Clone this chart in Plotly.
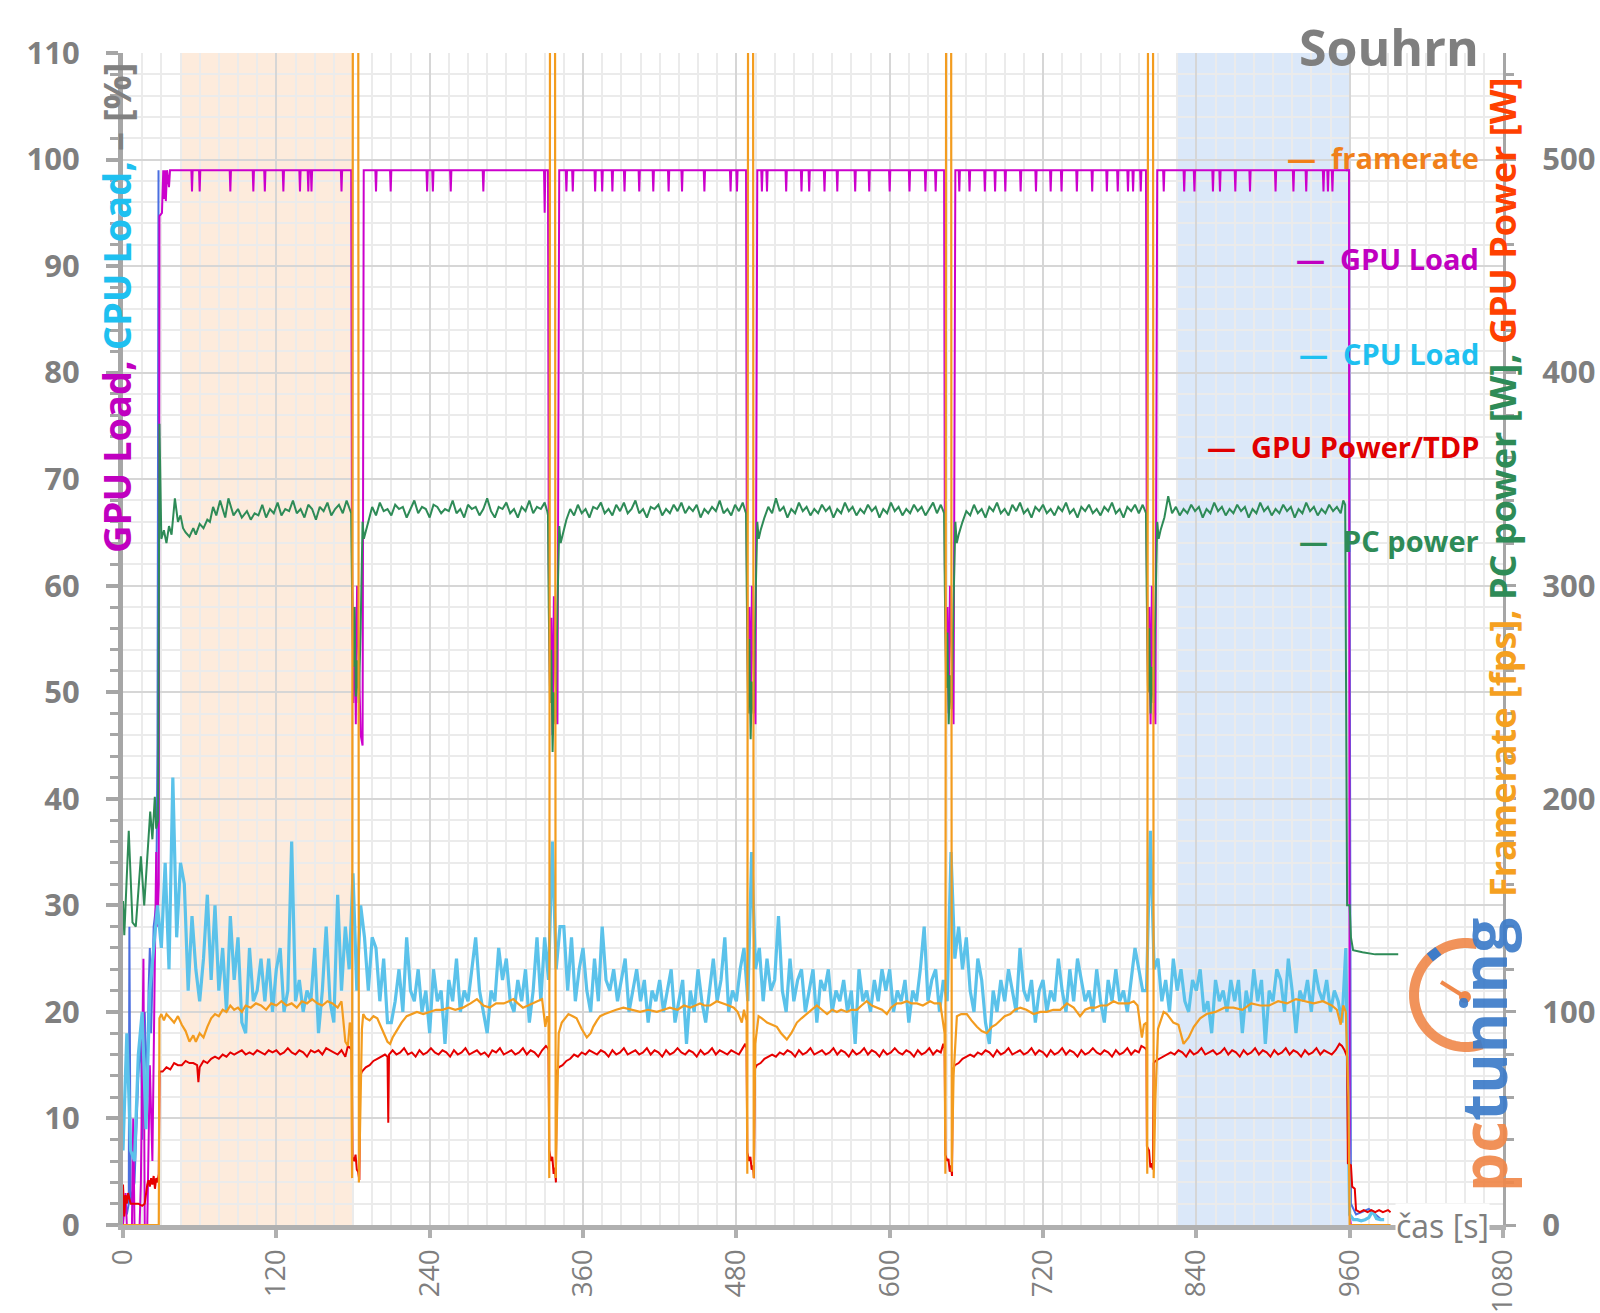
import math
import plotly.graph_objects as go

# ---------------- data ----------------
series_names = ["framerate", "GPU Load", "CPU Load", "GPU Power/TDP", "PC power"]
x_ticks = list(range(0, 1081, 120))
y_left_ticks = list(range(0, 111, 10))
y_right_ticks = list(range(0, 501, 100))
warmup_window = [45, 180]
cooldown_window = [825, 960]

# CPU load [%], sampled every 3 s from 0 to 960 s
cpu_time = list(range(0, 961, 3))
cpu_load = [
    7, 18, 7, 6, 16, 20, 9, 22, 26, 30,
    26, 34, 24, 42, 27, 34, 32, 22, 29, 24,
    21, 25, 31, 23, 30, 22, 26, 20, 29, 23,
    27, 19, 18, 26, 21, 22, 25, 21, 25, 20,
    24, 26, 20, 22, 36, 21, 23, 20, 22, 21,
    26, 18, 22, 28, 21, 19, 31, 22, 28, 24,
    33, 22, 30, 27, 22, 27, 26, 21, 25, 19,
    19, 21, 24, 20, 27, 22, 21, 24, 20, 22,
    18, 24, 21, 22, 17, 23, 21, 25, 20, 22,
    21, 24, 27, 22, 20, 18, 22, 21, 26, 23,
    25, 21, 20, 23, 21, 24, 19, 22, 27, 21,
    27, 23, 36, 24, 28, 28, 22, 27, 21, 24,
    26, 22, 20, 25, 21, 28, 23, 22, 24, 21,
    23, 25, 20, 22, 24, 21, 23, 19, 22, 21,
    23, 20, 22, 24, 19, 21, 23, 17, 22, 20,
    24, 21, 19, 22, 25, 21, 23, 27, 20, 22,
    21, 24, 26, 21, 35, 24, 26, 21, 25, 22,
    23, 29, 22, 20, 25, 21, 23, 24, 20, 22,
    24, 19, 23, 22, 24, 20, 22, 21, 23, 20,
    22, 17, 24, 21, 22, 20, 23, 21, 24, 22,
    24, 20, 22, 21, 23, 19, 22, 21, 24, 28,
    21, 23, 24, 20, 23, 21, 35, 25, 28, 24,
    27, 22, 20, 25, 23, 19, 17, 22, 20, 23,
    21, 24, 22, 20, 26, 22, 21, 23, 19, 22,
    23, 20, 22, 21, 25, 22, 20, 24, 21, 25,
    23, 21, 22, 20, 24, 21, 19, 23, 21, 24,
    21, 22, 20, 23, 26, 24, 22, 22, 37, 24,
    25, 21, 23, 20, 25, 22, 24, 21, 20, 23,
    22, 24, 20, 21, 18, 23, 21, 22, 20, 23,
    21, 23, 18, 22, 20, 24, 21, 23, 17, 22,
    21, 24, 23, 20, 25, 22, 18, 22, 21, 23,
    20, 24, 22, 21, 23, 20, 22, 21, 19, 26,
    1,
]
cpu_tail_time = [963, 966, 969, 972, 975, 978, 981, 984, 987]
cpu_tail_load = [0.5, 0.5, 0.4, 0.5, 0.7, 1.3, 0.6, 0.5, 0.5]

# GPU load [%] as (time s, value)
gpu_load_pts = [
    (0, 0), (2, 3), (3, 0), (7, 0), (8, 10), (9, 0), (13, 0), (14, 4), (16, 25), (17, 0), (19, 0), (21, 15),
    (23, 6), (25, 27), (26, 35), (27, 28), (28, 32), (28.5, 94.7), (30.5, 95), (31.5, 99), (32, 96.3), (33, 99),
    (33.5, 96.1), (34.5, 99), (36, 97.4), (36.8, 99),
    (53.5, 99), (54, 97), (54.5, 99), (59.5, 99), (60, 97), (60.5, 99), (83.5, 99), (84, 97), (84.5, 99),
    (101.5, 99), (102, 97), (102.5, 99), (110.5, 99), (111, 97), (111.5, 99), (125, 99), (125.5, 97), (126, 99),
    (138, 99), (138.5, 97), (139, 99), (144.5, 99), (145, 97), (145.5, 99), (147, 99), (147.5, 97), (148, 99),
    (170.5, 99), (171, 97), (171.5, 99),
    (178.6, 99), (179.2, 63), (180.2, 49), (181.2, 58), (182.2, 47), (183.2, 60), (184.5, 52), (186, 46),
    (187.5, 45), (188.4, 99),
    (197.5, 99), (198, 97), (198.5, 99), (209, 99), (209.5, 97), (210, 99), (237.5, 99), (238, 97), (238.5, 99),
    (242, 99), (242.5, 97), (243, 99), (256, 99), (256.5, 97), (257, 99), (281.5, 99), (282, 97), (282.5, 99),
    (329.5, 99), (330, 95), (330.5, 99),
    (332.6, 99), (333.2, 62), (334.2, 50), (335.2, 57), (336.2, 46), (337.2, 59), (338.5, 51), (340, 47), (341.4, 99),
    (346.5, 99), (347, 97), (347.5, 99), (351.5, 99), (352, 97), (352.5, 99), (369, 99), (369.5, 97), (370, 99),
    (374.5, 99), (375, 97), (375.5, 99), (382.5, 99), (383, 97), (383.5, 99), (392, 99), (392.5, 97), (393, 99),
    (403.5, 99), (404, 97), (404.5, 99), (414.5, 99), (415, 97), (415.5, 99), (426.5, 99), (427, 97), (427.5, 99),
    (437, 99), (437.5, 97), (438, 99), (454.5, 99), (455, 97), (455.5, 99), (475, 99), (475.5, 97), (476, 99),
    (480, 99), (480.5, 97), (481, 99),
    (487.6, 99), (488.2, 63), (489.2, 49), (490.2, 58), (491.2, 48), (492.2, 60), (493.5, 52), (495, 47), (496.4, 99),
    (499.5, 99), (500, 97), (500.5, 99), (503.5, 99), (504, 97), (504.5, 99), (518.5, 99), (519, 97), (519.5, 99),
    (530.5, 99), (531, 97), (531.5, 99), (536.5, 99), (537, 97), (537.5, 99), (548.5, 99), (549, 97), (549.5, 99),
    (558.5, 99), (559, 97), (559.5, 99), (572.5, 99), (573, 97), (573.5, 99), (583.5, 99), (584, 97), (584.5, 99),
    (599.5, 99), (600, 97), (600.5, 99), (615, 99), (615.5, 97), (616, 99), (627.5, 99), (628, 97), (628.5, 99),
    (635.5, 99), (636, 97), (636.5, 99),
    (642.6, 99), (643.2, 62), (644.2, 52), (645.2, 58), (646.2, 48), (647.2, 60), (648.5, 53), (650, 47), (651.4, 99),
    (654, 99), (654.5, 97), (655, 99), (662, 99), (662.5, 97), (663, 99), (674, 99), (674.5, 97), (675, 99),
    (682, 99), (682.5, 97), (683, 99), (690, 99), (690.5, 97), (691, 99), (702, 99), (702.5, 97), (703, 99),
    (714, 99), (714.5, 97), (715, 99), (725.5, 99), (726, 97), (726.5, 99), (734, 99), (734.5, 97), (735, 99),
    (746, 99), (746.5, 97), (747, 99), (758, 99), (758.5, 97), (759, 99), (769.5, 99), (770, 97), (770.5, 99),
    (778, 99), (778.5, 97), (779, 99), (786, 99), (786.5, 97), (787, 99), (790, 99), (790.5, 97), (791, 99),
    (796, 99), (796.5, 97), (797, 99),
    (800.6, 99), (801.2, 63), (802.2, 50), (803.2, 58), (804.2, 47), (805.2, 60), (806.5, 52), (808, 47), (809.4, 99),
    (814, 99), (814.5, 97), (815, 99), (830, 99), (830.5, 97), (831, 99), (838, 99), (838.5, 97), (839, 99),
    (852.5, 99), (853, 97), (853.5, 99), (858, 99), (858.5, 97), (859, 99), (870, 99), (870.5, 97), (871, 99),
    (881.5, 99), (882, 97), (882.5, 99), (901.5, 99), (902, 97), (902.5, 99), (915.5, 99), (916, 97), (916.5, 99),
    (925.5, 99), (926, 97), (926.5, 99), (939, 99), (939.5, 97), (940, 99), (942.5, 99), (943, 97), (943.5, 99),
    (946, 99), (946.5, 97), (947, 99),
    (959.5, 99), (960, 1), (961, 0), (985, 0),
]

# unlabelled auxiliary load [%] (dark blue), visible only at start and end
aux_load_pts = [
    (0, 2), (3, 1), (4.5, 2), (5, 28), (6, 2), (9, 4), (12, 14), (14, 18), (15, 8), (17, 20), (19, 12),
    (20, 22), (21, 26), (22, 18), (24, 28), (26, 30), (27, 45), (27.8, 99),
    (None, None),
    (957, 99), (959.5, 99), (960, 60), (961, 2), (965, 1), (975, 1.5), (980, 1), (985, 0.5),
]

# PC power [W]
pc_power_pts = [
    (0, 152), (1, 136), (4.5, 185), (7.4, 142), (10, 140), (14, 173), (16.6, 150), (18.6, 170), (21.3, 194),
    (23, 181), (24.9, 201), (26, 186), (27.5, 190), (28.5, 376), (30, 322), (32, 326), (34, 320), (36, 328),
    (38, 324), (40.6, 341), (43, 330), (45, 333), (47, 327), (49, 325), (52, 323), (55, 327), (57, 324),
    (60, 329), (63, 327), (66, 331), (68, 330), (70.5, 337), (73, 333), (76, 340), (80, 332), (82.5, 341),
    (86.5, 333), (90, 336), (93, 332), (97, 335), (100, 331), (103, 334), (106, 333), (109, 338), (112, 332),
    (115, 336), (118, 334), (121, 339), (124, 333), (127, 336), (130, 335), (133, 340), (136, 334), (139, 336),
    (142, 332), (145, 338), (148, 336), (151, 331), (154, 337), (157, 335), (160, 339), (163, 333), (166, 336),
    (169, 338), (172, 334), (175, 340), (177.5, 336),
    (178.6, 334), (179.2, 300), (180.2, 262), (181.2, 290), (182.2, 248), (183.2, 265), (184.5, 245), (186, 280),
    (187.5, 330), (188.5, 322), (190, 325), (192, 330), (195, 337), (198, 333), (201, 339), (204, 335),
    (207, 336), (210, 333), (213, 338), (216, 336), (219, 337), (222, 332), (225, 336), (228, 340), (231, 334),
    (234, 337), (237, 336), (240, 332), (243, 338), (246, 337), (249, 334), (252, 336), (255, 335), (258, 340),
    (261, 334), (264, 336), (267, 332), (270, 338), (273, 336), (276, 337), (279, 333), (282, 336), (285, 341),
    (288, 335), (291, 332), (294, 337), (297, 336), (300, 339), (303, 334), (306, 336), (309, 332), (312, 337),
    (315, 335), (318, 340), (321, 334), (324, 337), (327, 336), (330, 339), (332, 335),
    (332.6, 333), (333.2, 290), (334.2, 245), (335.2, 270), (336.2, 222), (337.2, 250), (338.5, 235), (340, 290),
    (341.4, 328), (342.5, 320), (344, 324), (347, 331), (350, 336), (353, 333), (356, 338), (359, 334),
    (362, 336), (365, 332), (368, 337), (371, 336), (374, 339), (377, 334), (380, 336), (383, 333), (386, 338),
    (389, 335), (392, 339), (395, 334), (398, 336), (401, 340), (404, 334), (407, 336), (410, 332), (413, 337),
    (416, 336), (419, 338), (422, 333), (425, 336), (428, 334), (431, 338), (434, 335), (437, 339), (440, 334),
    (443, 337), (446, 335), (449, 338), (452, 332), (455, 336), (458, 334), (461, 337), (464, 335), (467, 340),
    (470, 334), (473, 336), (476, 333), (479, 338), (482, 335), (485, 339), (487, 335),
    (487.6, 334), (488.2, 295), (489.2, 240), (490.2, 275), (491.2, 228), (492.2, 255), (493.5, 240), (495, 292),
    (496.4, 330), (497.5, 322), (499, 326), (502, 332), (505, 337), (508, 334), (511, 341), (514, 335),
    (517, 337), (520, 332), (523, 336), (526, 334), (529, 339), (532, 335), (535, 337), (538, 333), (541, 336),
    (544, 334), (547, 338), (550, 335), (553, 337), (556, 332), (559, 336), (562, 334), (565, 339), (568, 335),
    (571, 337), (574, 333), (577, 336), (580, 334), (583, 338), (586, 335), (589, 337), (592, 332), (595, 336),
    (598, 334), (601, 339), (604, 335), (607, 337), (610, 333), (613, 336), (616, 334), (619, 338), (622, 335),
    (625, 337), (628, 333), (631, 336), (634, 339), (637, 334), (640, 338), (642, 335),
    (642.6, 334), (643.2, 298), (644.2, 252), (645.2, 278), (646.2, 235), (647.2, 258), (648.5, 242), (650, 292),
    (651.4, 330), (652.5, 320), (654, 324), (657, 330), (660, 335), (663, 333), (666, 338), (669, 334),
    (672, 336), (675, 332), (678, 337), (681, 335), (684, 339), (687, 334), (690, 336), (693, 333), (696, 338),
    (699, 335), (702, 339), (705, 334), (708, 336), (711, 332), (714, 337), (717, 335), (720, 338), (723, 334),
    (726, 336), (729, 333), (732, 337), (735, 335), (738, 339), (741, 334), (744, 336), (747, 332), (750, 337),
    (753, 335), (756, 338), (759, 334), (762, 336), (765, 333), (768, 337), (771, 335), (774, 339), (777, 334),
    (780, 336), (783, 332), (786, 337), (789, 335), (792, 338), (795, 334), (798, 338), (800, 335),
    (800.6, 334), (801.2, 295), (802.2, 250), (803.2, 280), (804.2, 240), (805.2, 262), (806.5, 245), (808, 290),
    (809.4, 330), (810.5, 322), (812, 326), (815, 332), (818, 342), (821, 334), (824, 337), (827, 333),
    (830, 336), (833, 334), (836, 338), (839, 335), (842, 337), (845, 332), (848, 336), (851, 334), (854, 339),
    (857, 335), (860, 337), (863, 333), (866, 336), (869, 334), (872, 338), (875, 335), (878, 337), (881, 332),
    (884, 336), (887, 334), (890, 339), (893, 335), (896, 337), (899, 333), (902, 336), (905, 334), (908, 338),
    (911, 335), (914, 337), (917, 332), (920, 336), (923, 334), (926, 339), (929, 335), (932, 337), (935, 333),
    (938, 336), (941, 334), (944, 338), (947, 335), (950, 337), (953, 334), (955, 340), (956.5, 338),
    (957.5, 200), (958, 150), (960, 150), (961, 135), (962.7, 129), (970, 128), (980, 127), (990, 127), (998, 127),
]

# GPU power [W]
gpu_power_pts = [
    (0, 19), (1, 4), (2, 14), (3, 10), (4, 15), (5, 12), (6, 10), (9, 10), (12, 10), (15, 9), (17, 10),
    (19, 19), (20, 21), (21, 18), (22, 22), (23, 19), (24, 23), (25, 17), (26, 22), (27, 20), (28, 24),
    (28.6, 72), (31, 72), (34, 74), (37, 73), (40, 76), (43, 75), (46, 75), (49, 77), (52, 76), (55, 76),
    (58, 75), (59, 67), (60, 74), (63, 77), (66, 76), (69, 78), (72, 79), (75, 78), (78, 80), (81, 79),
    (84, 81), (87, 80), (90, 81), (93, 82), (96, 80), (99, 81), (102, 80), (105, 82), (108, 81), (111, 80),
    (114, 82), (117, 81), (120, 82), (123, 80), (126, 81), (129, 83), (132, 81), (135, 80), (138, 82),
    (141, 81), (144, 79), (147, 82), (150, 81), (153, 82), (156, 80), (159, 83), (162, 82), (165, 81),
    (168, 80), (171, 82), (174, 79), (176, 84), (178, 83),
    (179, 82), (179.6, 32), (181, 30), (182, 33), (183, 26), (184, 25), (185, 21), (185.6, 70), (187, 72),
    (190, 74), (193, 75), (196, 77), (199, 78), (202, 79), (205, 80), (207, 79), (207.6, 48), (208.2, 80),
    (211, 82), (214, 80), (217, 81), (220, 83), (223, 80), (226, 81), (229, 79), (232, 82), (235, 80),
    (238, 81), (241, 83), (244, 81), (247, 80), (250, 82), (253, 81), (256, 79), (259, 82), (262, 80),
    (265, 81), (268, 83), (271, 80), (274, 81), (277, 82), (280, 80), (283, 81), (286, 79), (289, 82),
    (292, 81), (295, 83), (298, 80), (301, 81), (304, 82), (307, 80), (310, 81), (313, 83), (316, 80),
    (319, 82), (322, 81), (325, 79), (328, 82), (331, 84), (332.5, 83),
    (333, 82), (333.6, 35), (335, 30), (336, 32), (337, 24), (338, 27), (338.8, 20), (339.4, 72), (341, 74),
    (344, 75), (347, 77), (350, 78), (353, 80), (356, 79), (359, 81), (362, 80), (365, 82), (368, 81),
    (371, 80), (374, 82), (377, 81), (380, 79), (383, 82), (386, 80), (389, 81), (392, 83), (395, 80),
    (398, 81), (401, 82), (404, 80), (407, 81), (410, 83), (413, 80), (416, 82), (419, 81), (422, 79),
    (425, 82), (428, 80), (431, 81), (434, 83), (437, 81), (440, 80), (443, 82), (446, 81), (449, 79),
    (452, 82), (455, 80), (458, 81), (461, 83), (464, 80), (467, 82), (470, 81), (473, 80), (476, 82),
    (479, 81), (482, 80), (485, 83), (487, 85),
    (488, 83), (488.6, 34), (490, 30), (491, 32), (492, 26), (493, 28), (493.8, 22), (494.4, 73), (496, 75),
    (499, 76), (502, 78), (505, 79), (508, 80), (511, 79), (514, 81), (517, 80), (520, 82), (523, 81),
    (526, 79), (529, 82), (532, 80), (535, 81), (538, 83), (541, 80), (544, 81), (547, 82), (550, 80),
    (553, 81), (556, 83), (559, 80), (562, 82), (565, 81), (568, 79), (571, 82), (574, 80), (577, 81),
    (580, 83), (583, 80), (586, 82), (589, 81), (592, 79), (595, 82), (598, 80), (601, 81), (604, 83),
    (607, 81), (610, 80), (613, 82), (616, 81), (619, 79), (622, 82), (625, 80), (628, 81), (631, 83),
    (634, 80), (637, 82), (640, 81), (642, 85),
    (643, 83), (643.6, 33), (645, 30), (646, 31), (647, 25), (648, 28), (648.8, 23), (649.4, 73), (651, 75),
    (654, 76), (657, 78), (660, 79), (663, 80), (666, 79), (669, 81), (672, 80), (675, 82), (678, 81),
    (681, 79), (684, 82), (687, 80), (690, 81), (693, 83), (696, 80), (699, 81), (702, 82), (705, 80),
    (708, 81), (711, 83), (714, 80), (717, 82), (720, 81), (723, 79), (726, 82), (729, 80), (732, 81),
    (735, 83), (738, 80), (741, 82), (744, 81), (747, 79), (750, 82), (753, 80), (756, 81), (759, 83),
    (762, 81), (765, 80), (768, 82), (771, 81), (774, 79), (777, 82), (780, 80), (783, 81), (786, 83),
    (789, 80), (792, 82), (795, 81), (797, 84), (800, 83),
    (801, 82), (801.3, 37), (803, 35), (804, 27), (805, 29), (806, 26), (806.6, 76), (808, 77), (811, 78),
    (814, 79), (817, 80), (820, 81), (823, 80), (826, 82), (829, 81), (832, 79), (835, 82), (838, 80),
    (841, 81), (844, 83), (847, 80), (850, 81), (853, 82), (856, 80), (859, 81), (862, 83), (865, 80),
    (868, 82), (871, 81), (874, 79), (877, 82), (880, 80), (883, 81), (886, 83), (889, 80), (892, 82),
    (895, 81), (898, 79), (901, 82), (904, 80), (907, 81), (910, 83), (913, 80), (916, 82), (919, 81),
    (922, 79), (925, 82), (928, 80), (931, 81), (934, 83), (937, 80), (940, 82), (943, 81), (946, 80),
    (949, 82), (952, 85), (954, 84), (956, 82), (958, 79),
    (958.6, 29), (961, 28), (962, 18), (964, 17), (965, 7), (968, 6), (971, 7), (974, 6), (977, 7), (980, 6),
    (983, 7), (986, 6), (990, 7), (992, 6),
]

# framerate [fps]
framerate_pts = [
    (0, 0), (28, 0), (28.5, 97), (30, 99), (32, 96), (34, 99), (37, 97), (40, 95), (43, 98), (46, 94),
    (49, 91), (52, 86), (55, 89), (57, 86), (60, 90), (63, 88), (66, 93), (69, 97), (72, 99), (75, 98),
    (78, 101), (81, 100), (84, 103), (87, 101), (90, 102), (93, 100), (96, 103), (100, 102), (104, 104),
    (108, 103), (112, 101), (116, 104), (120, 103), (124, 105), (128, 103), (132, 104), (136, 102),
    (140, 105), (144, 104), (148, 106), (152, 104), (156, 103), (160, 105), (164, 104), (168, 102),
    (171, 105), (174, 86), (176, 84), (177.5, 95),
    (178.5, 92), (179.3, 22), (180, 700), (184, 700), (184.6, 20), (185.5, 45), (187, 92), (188, 99),
    (190, 97), (193, 96), (196, 98), (199, 97), (202, 93), (204, 90), (207, 86), (209, 85), (211, 88),
    (214, 91), (218, 95), (222, 98), (226, 99), (230, 100), (235, 99), (240, 100), (245, 101), (250, 101),
    (255, 102), (260, 101), (266, 102), (272, 104), (277, 106), (282, 103), (287, 102), (292, 104),
    (298, 104), (302, 105), (305.5, 106), (309, 104), (313, 102), (317, 103), (321, 104), (325, 105),
    (328, 106), (330.5, 93), (332, 98),
    (333, 96), (333.6, 22), (334.3, 700), (338, 700), (338.6, 22), (339.5, 50), (341, 90), (343.4, 95),
    (346, 97), (348.6, 99), (352, 98), (355, 97), (359, 92), (363, 88), (366, 90), (368, 93), (371, 96),
    (373.4, 98), (377, 99), (381, 100), (386, 101), (391.6, 102), (398, 101), (404.7, 100), (411, 101),
    (417.8, 100), (423, 101), (428, 102), (434, 101), (439, 103), (444, 102), (448, 103), (451.6, 104),
    (455, 103), (459.5, 103), (464.7, 105), (470, 104), (474, 103), (478, 102), (481, 100), (484.3, 95),
    (486, 101), (487, 98),
    (488, 96), (488.6, 24), (489.3, 700), (493, 700), (493.6, 22), (494.8, 85), (497.4, 98), (500, 97),
    (504, 95), (508, 94), (511.7, 93), (515, 90), (519.5, 87), (523, 90), (527.4, 95), (531, 97),
    (535.2, 99), (539, 101), (543, 103), (547, 101), (551, 99), (555, 101), (558.7, 100), (562, 101),
    (566.5, 100), (570, 101), (574.3, 101), (578, 103), (582, 105), (586, 103), (590, 102), (594, 101),
    (597.8, 99), (601, 102), (605.6, 104), (609, 104), (613.5, 105), (617, 104), (621.3, 104), (626, 103),
    (631.7, 105), (635, 104), (639.6, 104), (641.5, 97), (642.5, 92),
    (643, 90), (643.6, 24), (644.3, 700), (648, 700), (648.6, 25), (650, 70), (652.6, 98), (656, 99),
    (660.4, 99), (664, 96), (668.3, 93), (672, 91), (676, 90), (680, 93), (683, 94), (686.5, 96), (690, 98),
    (694.4, 99), (698, 101), (702.2, 102), (707, 101), (712.6, 99), (718, 100), (723, 100), (728, 101),
    (733.5, 101), (738.7, 104), (744, 102), (749, 98), (753, 101), (757, 102), (761, 102), (765, 103),
    (770, 103), (775.3, 105), (779, 104), (783, 104), (787, 104), (791, 105), (794, 103), (797.4, 88),
    (799, 94),
    (801, 95), (801.6, 24), (802.3, 700), (806, 700), (806.6, 22), (808, 60), (810, 92), (814.4, 100),
    (817, 99), (822, 95), (826, 94), (830, 85), (834, 88), (838, 93), (843, 97), (848, 99), (855, 100),
    (862, 102), (869, 102), (876, 101), (883, 104), (890, 103), (897, 103), (904, 105), (911, 104),
    (918, 106), (925, 105), (932, 104), (939, 105), (946, 103), (950, 101), (953, 94), (955, 103),
    (957, 100), (959, 60), (960, 0), (992, 0),
]

# ---------------- figure ----------------
W, H = 1600, 1313
PL, PR, PT, PB = 123, 1503, 53, 1225  # plot area in pixels


def paper(px, py):
    return (px - PL) / (PR - PL), (PB - py) / (PB - PT)


def split(pts):
    return [p[0] for p in pts], [p[1] for p in pts]


C_FPS = "#f39c1f"
C_GPU = "#cc00cc"
C_CPU = "#5bc2ea"
C_PWR = "#e60000"
C_PC = "#2e8b57"
C_AUX = "#4a6ee0"
GRAY = "#7f7f7f"
FONT = "Open Sans"

fig = go.Figure()

ax, ay = split(aux_load_pts)
fig.add_trace(go.Scatter(x=ax, y=ay, mode="lines", line=dict(color=C_AUX, width=2), connectgaps=False))
gx, gy = split(gpu_load_pts)
fig.add_trace(go.Scatter(x=gx, y=gy, mode="lines", line=dict(color=C_GPU, width=2)))
fig.add_trace(go.Scatter(x=cpu_time + cpu_tail_time, y=cpu_load + cpu_tail_load, mode="lines",
                         line=dict(color=C_CPU, width=3.2)))
px_, py_ = split(pc_power_pts)
fig.add_trace(go.Scatter(x=px_, y=py_, mode="lines", line=dict(color=C_PC, width=2), yaxis="y2"))
wx, wy = split(gpu_power_pts)
fig.add_trace(go.Scatter(x=wx, y=wy, mode="lines", line=dict(color=C_PWR, width=2), yaxis="y2"))
fx, fy = split(framerate_pts)
fig.add_trace(go.Scatter(x=fx, y=fy, mode="lines", line=dict(color=C_FPS, width=2.2), yaxis="y2"))

shapes = [
    dict(type="rect", xref="x", yref="paper", x0=warmup_window[0], x1=warmup_window[1], y0=0, y1=1,
         fillcolor="#fdebdc", line=dict(width=0), layer="below"),
    dict(type="rect", xref="x", yref="paper", x0=cooldown_window[0], x1=cooldown_window[1], y0=0, y1=1,
         fillcolor="#dbe8f9", line=dict(width=0), layer="below"),
]

# pctuning logo gauge (decoration)
cx, cy, r = 1466, 995, 52
arc = []
for k in range(0, 43):
    a = math.radians(78 + k * 5)
    arc.append(paper(cx + r * math.cos(a), cy - r * math.sin(a)))
shapes.append(dict(type="path", xref="paper", yref="paper",
                   path="M " + " L ".join(f"{u:.5f},{v:.5f}" for u, v in arc),
                   line=dict(color="#f0884a", width=10), opacity=0.9))
b0 = paper(cx + r * math.cos(math.radians(122)), cy - r * math.sin(math.radians(122)))
b1 = paper(cx + r * math.cos(math.radians(134)), cy - r * math.sin(math.radians(134)))
shapes.append(dict(type="line", xref="paper", yref="paper", x0=b0[0], y0=b0[1], x1=b1[0], y1=b1[1],
                   line=dict(color="#3d7cc9", width=10)))
n0 = paper(1465, 997)
n1 = paper(1441, 982)
shapes.append(dict(type="line", xref="paper", yref="paper", x0=n0[0], y0=n0[1], x1=n1[0], y1=n1[1],
                   line=dict(color="#f0884a", width=4)))
d0 = paper(1459, 991)
d1 = paper(1471, 1003)
shapes.append(dict(type="circle", xref="paper", yref="paper", x0=d0[0], y0=d1[1], x1=d1[0], y1=d0[1],
                   fillcolor="#f0884a", line=dict(width=0)))

annotations = []
legend_colors = ["#f0801a", "#c000c0", "#1ec0f0", "#e00000", "#2e8b57"]
legend_py = [158, 258, 353, 446, 540]
for name, col, ypx in zip(series_names, legend_colors, legend_py):
    xx, yy = paper(1481, ypx)
    annotations.append(dict(xref="paper", yref="paper", x=xx, y=yy, xanchor="right", yanchor="middle",
                            text=f"—  {name}", showarrow=False,
                            font=dict(family=FONT, size=29, color=col, weight="bold")))

# title
tx, ty = paper(1481, 47)
annotations.append(dict(xref="paper", yref="paper", x=tx, y=ty, xanchor="right", yanchor="middle",
                        text="Souhrn", showarrow=False,
                        font=dict(family=FONT, size=50, color=GRAY, weight="bold")))

# left axis title
lx, ly = paper(116, 308)
annotations.append(dict(xref="paper", yref="paper", x=lx, y=ly, xanchor="center", yanchor="middle",
                        textangle=-90, showarrow=False,
                        text='<span style="color:#c000c0">GPU Load, </span>'
                             '<span style="color:#1ec0f0">CPU Load, </span>'
                             '<span style="color:#808080">– [%]</span>',
                        font=dict(family=FONT, size=38, weight="bold")))

# right axis title
rx, ry = paper(1502, 488)
annotations.append(dict(xref="paper", yref="paper", x=rx, y=ry, xanchor="center", yanchor="middle",
                        textangle=-90, showarrow=False,
                        text='<span style="color:#f5a020">Framerate [fps], </span>'
                             '<span style="color:#2e8b57">PC power [W], </span>'
                             '<span style="color:#ff4000">GPU Power [W]</span>',
                        font=dict(family=FONT, size=36, weight="bold")))

# x axis title
cxp, cyp = paper(1442, 1225)
annotations.append(dict(xref="paper", yref="paper", x=cxp, y=cyp, xanchor="center", yanchor="middle",
                        text="čas [s]", showarrow=False, bgcolor="white", borderpad=0,
                        font=dict(family=FONT, size=32, color=GRAY)))

# logo text
gx_, gy_ = paper(1483, 1055)
annotations.append(dict(xref="paper", yref="paper", x=gx_, y=gy_, xanchor="center", yanchor="middle",
                        textangle=-90, showarrow=False, opacity=0.92,
                        text='<span style="color:#f0884a">pc</span><span style="color:#3d7cc9">tuning</span>',
                        font=dict(family=FONT, size=62, weight="bold")))

fig.update_layout(
    width=W, height=H, template="none",
    margin=dict(l=PL, r=W - PR, t=PT, b=H - PB, pad=0),
    paper_bgcolor="white", plot_bgcolor="white",
    showlegend=False,
    shapes=shapes, annotations=annotations,
    xaxis=dict(range=[0, 1080], tickvals=x_ticks, ticktext=[str(v) for v in x_ticks], tickangle=-90,
               showline=True, linecolor="#b0b0b0", linewidth=5,
               ticks="outside", ticklen=8, tickwidth=4, tickcolor="#b0b0b0",
               showgrid=True, gridcolor="#d6d6d6", gridwidth=2,
               minor=dict(dtick=15, showgrid=True, gridcolor="#ebebeb", gridwidth=1.5, ticks=""),
               tickfont=dict(family=FONT, size=28, color=GRAY),
               zeroline=False, automargin=False, ticklabelstandoff=0),
    yaxis=dict(range=[0, 110], tickvals=y_left_ticks, showline=True, linecolor="#a6a6a6", linewidth=5,
               ticks="outside", ticklen=12, tickwidth=4, tickcolor="#a6a6a6",
               showgrid=True, gridcolor="#d6d6d6", gridwidth=2,
               minor=dict(dtick=2, ticks="outside", ticklen=8, tickwidth=3, tickcolor="#a6a6a6",
                          showgrid=True, gridcolor="#ebebeb", gridwidth=1.5),
               tickfont=dict(family=FONT, size=31, color=GRAY, weight="bold"),
               zeroline=False, automargin=False, ticklabelstandoff=20),
    yaxis2=dict(range=[0, 550], overlaying="y", side="right", tickvals=y_right_ticks,
                showline=True, linecolor="#a6a6a6", linewidth=3,
                ticks="outside", ticklen=10, tickwidth=3, tickcolor="#a6a6a6",
                minor=dict(dtick=20, ticks="outside", ticklen=8, tickwidth=3, tickcolor="#a6a6a6",
                           showgrid=False),
                showgrid=False, zeroline=False,
                tickfont=dict(family=FONT, size=31, color=GRAY, weight="bold"),
                automargin=False, ticklabelstandoff=20),
)

fig.write_html("out.html")
